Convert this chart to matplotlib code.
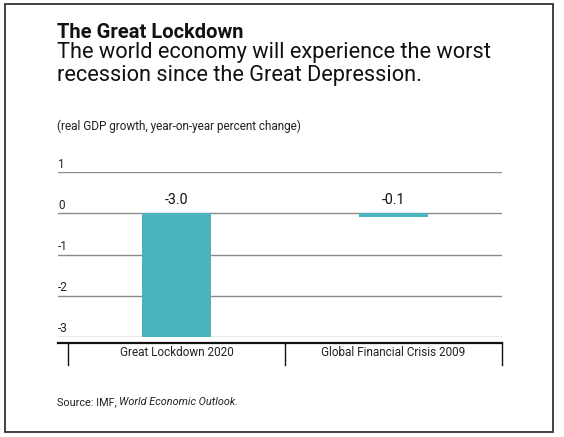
import matplotlib
matplotlib.use("Agg")
import matplotlib.pyplot as plt
from matplotlib.patches import Rectangle

plt.rcParams['font.family'] = ['Roboto', 'DejaVu Sans']

# data
categories = ['Great Lockdown 2020', 'Global Financial Crisis 2009']
growth = [-3.0, -0.1]
yticks = [1, 0, -1, -2, -3]

W, H = 564, 437
fig = plt.figure(figsize=(W / 100, H / 100), dpi=100)


def fx(px):
    return px / W


def fy(py):
    return 1 - py / H


# outer frame
fig.add_artist(Rectangle((fx(5), fy(432)), fx(548), fy(4) - fy(432),
                         transform=fig.transFigure, fill=False,
                         edgecolor='#333333', lw=1.3))

# titles
fig.text(fx(57), fy(38), 'The Great Lockdown', fontsize=14.5,
         fontweight='bold', color='#111111', va='baseline')
fig.text(fx(57), fy(58), 'The world economy will experience the worst',
         fontsize=15.7, color='#111111', va='baseline')
fig.text(fx(57), fy(81), 'recession since the Great Depression.',
         fontsize=15.7, color='#111111', va='baseline')
fig.text(fx(57), fy(126), '(real GDP growth, year-on-year percent change)',
         fontsize=8.5, color='#222222', va='center')

# plot area
ax = fig.add_axes([fx(58), fy(337), fx(502) - fx(58), fy(172) - fy(337)])
ax.set_xlim(-0.546, 1.5)
ax.set_ylim(-3, 1)
ax.axis('off')

unit = (337 - 172) / 4.0  # pixels per y unit

for t in yticks:
    ax.axhline(t, color='#8a8a8a', lw=1, zorder=1)
    ax.text(-0.546, t + 8 / unit, str(t), fontsize=8.5, color='#222222',
            ha='left', va='center')

x = list(range(len(categories)))
ax.bar(x, growth, width=0.32, color='#4bb3be', zorder=2, clip_on=False)
for xi, v in zip(x, growth):
    ax.text(xi, 13 / unit, f'{v:.1f}', fontsize=10.2, color='#111111',
            ha='center', va='center')

# category axis below the plot
base = -3 - 6 / unit
ax.plot([-0.546, 1.5], [base, base], color='#111111', lw=1.6, clip_on=False)
for sx in [-0.5, 0.5, 1.5]:
    ax.plot([sx, sx], [base, -3 - 28 / unit], color='#111111', lw=1,
            clip_on=False)
for xi, c in zip(x, categories):
    ax.text(xi, -3 - 16 / unit, c, fontsize=8.5, color='#222222',
            ha='center', va='center')

# source line with italic report name
t1 = fig.text(fx(57), fy(402), 'Source: IMF, ', fontsize=7.8,
              color='#222222', va='center')
fig.canvas.draw()
bb = t1.get_window_extent()
fig.text(bb.x1 / W, fy(402), 'World Economic Outlook.', fontsize=7.8,
         style='italic', color='#222222', va='center')

fig.savefig('out.png', dpi=100)
